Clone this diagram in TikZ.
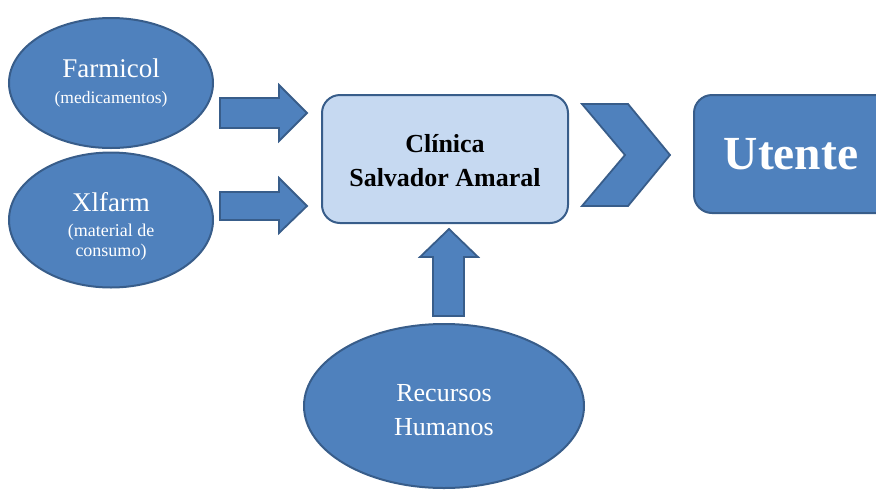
\documentclass[tikz,border=0pt]{standalone}
\usepackage{fontspec}
\setmainfont{Liberation Serif}
\usetikzlibrary{shapes.geometric}
\definecolor{blueA}{HTML}{4F81BD}
\definecolor{edgeA}{HTML}{385D8A}
\definecolor{lightA}{HTML}{C6D9F1}
\newcommand{\smalltxt}{\fontsize{18}{21}\selectfont}
\tikzset{
  blob/.style={ellipse, draw=edgeA, line width=2pt, fill=blueA, text=white, align=center, inner sep=0pt},
  blockarrow/.style={draw=edgeA, line width=1.8pt, fill=blueA, line join=miter},
  roundbox/.style={rectangle, rounded corners=18pt, draw=edgeA, line width=2pt, align=center, inner sep=0pt}
}
\begin{document}
\begin{tikzpicture}[x=1pt,y=-1pt]
\useasboundingbox (0,0) rectangle (876,491);
% ellipses
\node[blob, minimum width=204pt, minimum height=130pt, font=\fontsize{27}{26}\selectfont] (farm) at (111,83)
  {Farmicol\\{\fontsize{17.5}{18}\selectfont (medicamentos)}};
\node[blob, minimum width=204pt, minimum height=135pt, font=\fontsize{27}{25}\selectfont] (xl) at (111,220)
  {\rule{0pt}{31pt}Xlfarm\\[0pt]{\smalltxt (material de}\\[-5pt]{\smalltxt consumo)}};
\node[blob, minimum width=280pt, minimum height=164pt, font=\fontsize{26}{34}\selectfont] (rh) at (444,406)
  {\rule{0pt}{26pt}Recursos\\ Humanos};
% central box
\node[roundbox, fill=lightA, minimum width=246pt, minimum height=128pt, font=\bfseries\fontsize{26}{34}\selectfont] (cl) at (445,159)
  {\rule{0pt}{22pt}Clínica\\ Salvador Amaral};
% utente box (runs past the right edge)
\node[roundbox, fill=blueA, text=white, minimum width=200pt, minimum height=118pt, anchor=west, font=\bfseries\fontsize{47.5}{50}\selectfont] (ut) at (693,154)
  {\hspace*{-6pt}Utente};
% right arrows
\draw[blockarrow] (220,98) -- (279,98) -- (279,85) -- (307,113) -- (279,141) -- (279,128) -- (220,128) -- cycle;
\draw[blockarrow] (220,192) -- (279,192) -- (279,178) -- (307,206) -- (279,233) -- (279,220) -- (220,220) -- cycle;
% chevron
\draw[blockarrow] (582,104) -- (628,104) -- (670,155) -- (628,206) -- (582,206) -- (625,155) -- cycle;
% up arrow
\draw[blockarrow] (433,316) -- (433,257) -- (420,257) -- (449,229) -- (478,257) -- (464,257) -- (464,316) -- cycle;
\end{tikzpicture}
\end{document}
